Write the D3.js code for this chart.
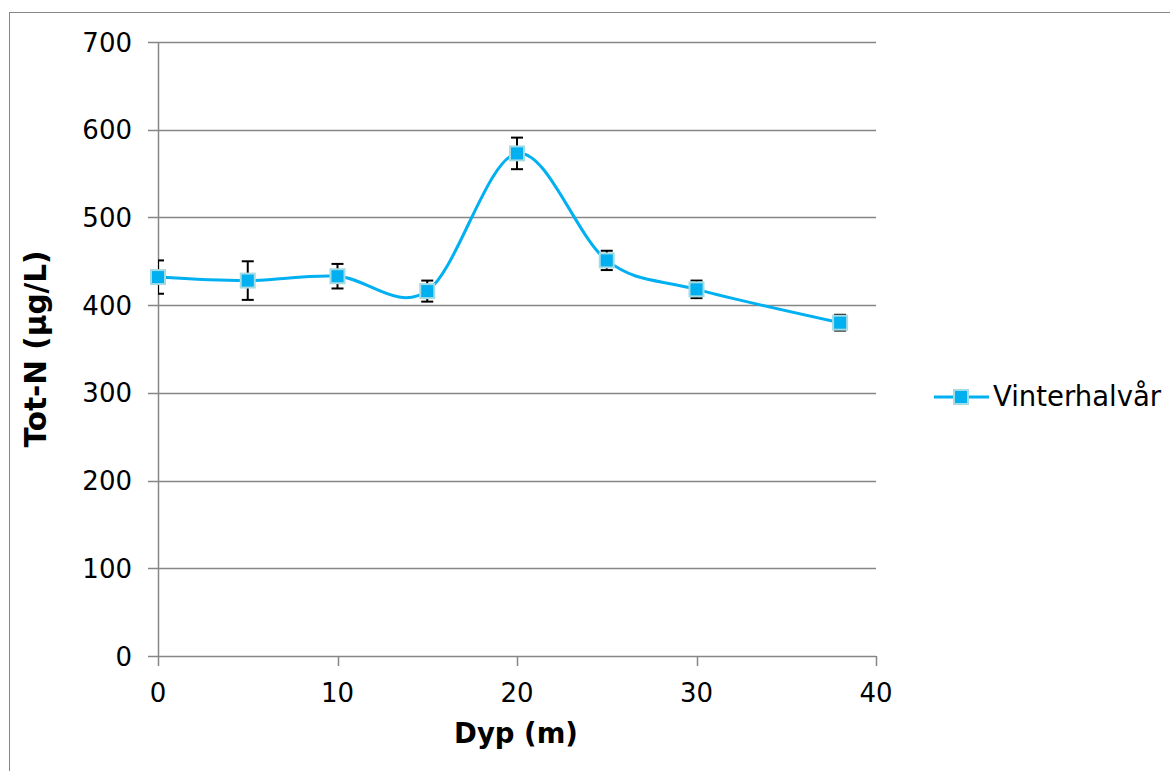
<!DOCTYPE html>
<html>
<head>
<meta charset="utf-8" />
<title></title>
<style>
  body { margin: 0; background: #fff; }
  text { font-family: Verdana, "DejaVu Sans", sans-serif; fill: #000; }
</style>
</head>
<body>
<script src="https://d3js.org/d3.v7.min.js"></script>
<script>
var depth = [0, 5, 10, 15, 20, 25, 30, 38];
var totN = [432, 428, 433, 416, 573, 451, 418, 380];
var errN = [19, 22, 14, 12, 18, 11, 10, 9];
var yTicks = [0, 100, 200, 300, 400, 500, 600, 700];
var xTicks = [0, 10, 20, 30, 40];
var seriesName = "Vinterhalvår";

var width = 1170, height = 771;
var plotL = 158, plotR = 876, plotT = 42, plotB = 656;

var svg = d3.select("body").append("svg")
    .attr("width", width)
    .attr("height", height);

// chart border
svg.append("rect")
    .attr("x", 9.5).attr("y", 12.5)
    .attr("width", 1180).attr("height", 800)
    .attr("fill", "none").attr("stroke", "#868686").attr("stroke-width", 1);

var x = d3.scaleLinear().domain([0, 40]).range([plotL, plotR]);
var y = d3.scaleLinear().domain([0, 700]).range([plotB, plotT]);

// grid lines
svg.append("g").selectAll("line")
    .data(yTicks)
    .enter().append("line")
    .attr("x1", plotL - 10).attr("x2", plotR)
    .attr("y1", function(d) { return Math.round(y(d)) + 0.5; })
    .attr("y2", function(d) { return Math.round(y(d)) + 0.5; })
    .attr("stroke", "#868686").attr("stroke-width", 1.5);

// y axis line
svg.append("line")
    .attr("x1", plotL + 0.5).attr("x2", plotL + 0.5)
    .attr("y1", plotT).attr("y2", plotB)
    .attr("stroke", "#868686").attr("stroke-width", 1.5);

// x ticks
svg.append("g").selectAll("line")
    .data(xTicks)
    .enter().append("line")
    .attr("x1", function(d) { return Math.round(x(d)) + 0.5; })
    .attr("x2", function(d) { return Math.round(x(d)) + 0.5; })
    .attr("y1", plotB).attr("y2", plotB + 10)
    .attr("stroke", "#868686").attr("stroke-width", 1.5);

svg.append("g").selectAll("text")
    .data(yTicks)
    .enter().append("text")
    .attr("x", 132)
    .attr("y", function(d) { return y(d) + 9.5; })
    .attr("text-anchor", "end")
    .style("font-size", "26px")
    .text(function(d) { return d; });

svg.append("g").selectAll("text")
    .data(xTicks)
    .enter().append("text")
    .attr("x", function(d) { return x(d); })
    .attr("y", 702)
    .attr("text-anchor", "middle")
    .style("font-size", "26px")
    .text(function(d) { return d; });

svg.append("text")
    .attr("x", 516).attr("y", 743)
    .attr("text-anchor", "middle")
    .style("font-size", "27.5px").style("font-weight", "bold")
    .text("Dyp (m)");

svg.append("text")
    .attr("transform", "translate(46,349) rotate(-90)")
    .attr("text-anchor", "middle")
    .style("font-size", "29.5px").style("font-weight", "bold")
    .text("Tot-N (µg/L)");

var pts = depth.map(function(d, i) { return { x: d, y: totN[i], e: errN[i] }; });

svg.append("clipPath").attr("id", "plotclip")
    .append("rect")
    .attr("x", plotL).attr("y", plotT - 20)
    .attr("width", plotR - plotL + 10).attr("height", plotB - plotT + 20);

// smoothed line
var line = d3.line()
    .x(function(d) { return x(d.x); })
    .y(function(d) { return y(d.y); })
    .curve(d3.curveCardinal.tension(0));

svg.append("path")
    .datum(pts)
    .attr("d", line)
    .attr("fill", "none")
    .attr("stroke", "#00b0f0")
    .attr("stroke-width", 3);

// error bars
var eb = svg.append("g").attr("clip-path", "url(#plotclip)")
    .attr("stroke", "#000").attr("stroke-width", 2);
pts.forEach(function(d) {
  var cx = x(d.x);
  eb.append("line").attr("x1", cx).attr("x2", cx)
    .attr("y1", y(d.y + d.e)).attr("y2", y(d.y - d.e));
  eb.append("line").attr("x1", cx - 6).attr("x2", cx + 6)
    .attr("y1", y(d.y + d.e)).attr("y2", y(d.y + d.e));
  eb.append("line").attr("x1", cx - 6).attr("x2", cx + 6)
    .attr("y1", y(d.y - d.e)).attr("y2", y(d.y - d.e));
});

// markers
svg.append("g").selectAll("rect")
    .data(pts)
    .enter().append("rect")
    .attr("x", function(d) { return x(d.x) - 7; })
    .attr("y", function(d) { return y(d.y) - 7; })
    .attr("width", 14).attr("height", 14)
    .attr("fill", "#00b0f0")
    .attr("stroke", "#a6dbe3").attr("stroke-width", 2);

// legend
var lg = svg.append("g");
lg.append("line")
    .attr("x1", 934).attr("x2", 989)
    .attr("y1", 397).attr("y2", 397)
    .attr("stroke", "#00b0f0").attr("stroke-width", 3);
lg.append("rect")
    .attr("x", 954).attr("y", 390)
    .attr("width", 14).attr("height", 14)
    .attr("fill", "#00b0f0")
    .attr("stroke", "#a6dbe3").attr("stroke-width", 2);
lg.append("text")
    .attr("x", 993).attr("y", 406)
    .style("font-size", "27.5px")
    .text(seriesName);
</script>
</body>
</html>
